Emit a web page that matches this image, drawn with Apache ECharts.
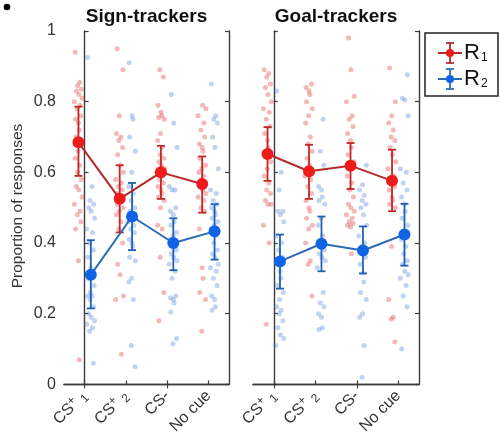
<!DOCTYPE html>
<html>
<head>
<meta charset="utf-8">
<script src="https://cdn.jsdelivr.net/npm/echarts@6/dist/echarts.min.js"></script>
<style>html,body{margin:0;padding:0;background:#fff;}#c{width:501px;height:437px;}</style>
</head>
<body>
<div id="c"></div>
<script>
// ---------- data ----------
const categories = ['CS+1', 'CS+2', 'CS-', 'No cue'];
const panelTitles = ['Sign-trackers', 'Goal-trackers'];
const yAxisTitle = 'Proportion of responses';
const yTicks = [0, 0.2, 0.4, 0.6, 0.8, 1];

// individual subjects, Sign-trackers, R1 (per category)
const stR1 = [
  [0.94,0.855,0.845,0.835,0.83,0.82,0.81,0.80,0.79,0.78,0.76,0.75,0.74,0.72,0.70,0.68,0.66,0.64,0.62,0.60,0.58,0.56,0.55,0.53,0.51,0.49,0.48,0.46,0.44,0.35,0.07],
  [0.95,0.89,0.76,0.71,0.70,0.69,0.67,0.65,0.62,0.60,0.58,0.57,0.56,0.55,0.54,0.53,0.52,0.51,0.50,0.49,0.48,0.46,0.44,0.40,0.34,0.31,0.25,0.24,0.085],
  [0.89,0.87,0.79,0.77,0.76,0.755,0.75,0.71,0.69,0.67,0.65,0.64,0.63,0.62,0.61,0.60,0.59,0.58,0.57,0.56,0.55,0.54,0.53,0.52,0.50,0.45,0.44,0.36,0.26,0.18],
  [0.79,0.78,0.76,0.74,0.72,0.70,0.68,0.67,0.66,0.64,0.62,0.61,0.60,0.59,0.58,0.57,0.56,0.55,0.54,0.53,0.52,0.50,0.49,0.44,0.33,0.30,0.26,0.24,0.15]
];
// Sign-trackers, R2
const stR2 = [
  [0.925,0.56,0.52,0.51,0.50,0.49,0.47,0.44,0.43,0.40,0.38,0.36,0.33,0.31,0.30,0.28,0.26,0.25,0.25,0.24,0.22,0.20,0.19,0.18,0.17,0.16,0.15,0.06],
  [0.91,0.76,0.75,0.70,0.66,0.60,0.56,0.54,0.52,0.50,0.49,0.48,0.47,0.46,0.45,0.44,0.43,0.41,0.40,0.39,0.36,0.35,0.30,0.29,0.24,0.11,0.05],
  [0.82,0.74,0.67,0.56,0.55,0.55,0.50,0.49,0.48,0.46,0.45,0.43,0.42,0.41,0.40,0.39,0.38,0.37,0.36,0.35,0.34,0.32,0.30,0.25,0.245,0.24,0.23,0.205,0.13,0.115],
  [0.85,0.76,0.75,0.74,0.70,0.67,0.61,0.55,0.54,0.52,0.51,0.50,0.49,0.48,0.47,0.46,0.45,0.44,0.42,0.40,0.38,0.37,0.36,0.34,0.33,0.32,0.30,0.28,0.25,0.24,0.22,0.21]
];
// Goal-trackers, R1
const gtR1 = [
  [0.89,0.88,0.87,0.85,0.84,0.82,0.80,0.78,0.77,0.75,0.73,0.71,0.69,0.67,0.65,0.63,0.61,0.59,0.57,0.55,0.54,0.52,0.51,0.51,0.45,0.40,0.17],
  [0.85,0.84,0.83,0.82,0.80,0.78,0.76,0.74,0.70,0.68,0.66,0.64,0.62,0.60,0.59,0.58,0.56,0.54,0.52,0.50,0.49,0.47,0.45,0.44,0.40,0.35,0.34,0.25],
  [0.98,0.89,0.815,0.80,0.76,0.75,0.73,0.71,0.69,0.67,0.65,0.63,0.61,0.59,0.57,0.55,0.53,0.51,0.50,0.49,0.48,0.47,0.46,0.455,0.45,0.445,0.37],
  [0.895,0.80,0.76,0.74,0.72,0.70,0.69,0.67,0.65,0.63,0.61,0.59,0.58,0.56,0.55,0.53,0.52,0.51,0.50,0.39,0.24,0.19,0.185,0.12]
];
// Goal-trackers, R2
const gtR2 = [
  [0.83,0.60,0.55,0.49,0.49,0.48,0.46,0.42,0.40,0.38,0.36,0.34,0.32,0.30,0.28,0.26,0.24,0.22,0.21,0.20,0.18,0.16,0.14,0.13,0.11],
  [0.75,0.66,0.62,0.56,0.55,0.53,0.52,0.51,0.47,0.45,0.42,0.40,0.38,0.37,0.36,0.35,0.33,0.26,0.23,0.22,0.20,0.19,0.16,0.155],
  [0.62,0.565,0.55,0.535,0.52,0.51,0.50,0.48,0.45,0.42,0.40,0.39,0.36,0.34,0.315,0.29,0.26,0.24,0.20,0.19,0.11,0.02],
  [0.876,0.81,0.805,0.76,0.61,0.60,0.57,0.55,0.53,0.51,0.49,0.47,0.45,0.43,0.41,0.39,0.37,0.35,0.34,0.32,0.31,0.30,0.28,0.25,0.22,0.10]
];

// group means and error bar limits
const stR1Mean = [0.685, 0.525, 0.600, 0.567];
const stR1Low  = [0.590, 0.430, 0.525, 0.486];
const stR1High = [0.786, 0.620, 0.675, 0.645];
const stR2Mean = [0.310, 0.475, 0.400, 0.433];
const stR2Low  = [0.215, 0.380, 0.323, 0.353];
const stR2High = [0.408, 0.570, 0.470, 0.510];
const gtR1Mean = [0.652, 0.603, 0.619, 0.576];
const gtR1Low  = [0.576, 0.525, 0.553, 0.490];
const gtR1High = [0.728, 0.678, 0.683, 0.664];
const gtR2Mean = [0.348, 0.398, 0.379, 0.424];
const gtR2Low  = [0.271, 0.320, 0.314, 0.336];
const gtR2High = [0.424, 0.475, 0.447, 0.511];

// ---------- presentation ----------
const jitter = [-0.08,0.03,-0.02,0.07,-0.05,0.01,0.09,-0.10,0.04,-0.03,0.06,-0.07,0.00,0.02,-0.06,0.08,-0.01];
const offR1 = -0.15, offR2 = 0.15;
const FONT = 'Liberation Sans, Arial, sans-serif';
const red = '#ee1b1b', redLine = '#b32b2b', redBar = '#c22626', redDot = 'rgba(222,60,60,0.45)';
const blue = '#1163e6', blueLine = '#2c6cb4', blueBar = '#1f62b5', blueDot = 'rgba(70,125,215,0.42)';
const axisCol = '#3c3c3c';

const panels = [
  {r1: stR1, r2: stR2, m1: stR1Mean, l1: stR1Low, h1: stR1High, m2: stR2Mean, l2: stR2Low, h2: stR2High},
  {r1: gtR1, r2: gtR2, m1: gtR1Mean, l1: gtR1Low, h1: gtR1High, m2: gtR2Mean, l2: gtR2Low, h2: gtR2High}
];
const gridBoxes = [
  {left: 64, top: 31, width: 165, height: 354},
  {left: 253, top: 31, width: 166, height: 354}
];

function labelFmt(v) {
  if (v === 'CS+1') return 'CS{sup|+} {sub|1}';
  if (v === 'CS+2') return 'CS{sup|+} {sub|2}';
  return v;
}

const grid = [], xAxis = [], yAxis = [], series = [];
gridBoxes.forEach((g, p) => {
  grid.push(g);
  const catBase = {
    type: 'category', gridIndex: p, data: categories, boundaryGap: true,
    axisLine: {show: true, lineStyle: {color: axisCol, width: 1.4}},
    axisTick: {show: true, inside: true, alignWithLabel: true, length: 4, lineStyle: {color: axisCol, width: 1.2}},
    splitLine: {show: false}
  };
  xAxis.push(Object.assign({}, catBase, {
    position: 'bottom',
    axisLabel: {
      show: true, rotate: 45, margin: 9, fontSize: 16, fontFamily: FONT, color: '#333',
      formatter: labelFmt,
      rich: {
        sup: {fontSize: 12, fontFamily: FONT, color: '#333', verticalAlign: 'top', padding: [0, 0, 8, 0]},
        sub: {fontSize: 12, fontFamily: FONT, color: '#333', verticalAlign: 'bottom', padding: [6, 0, 0, 0]}
      }
    }
  }));
  xAxis.push(Object.assign({}, catBase, {position: 'top', axisLabel: {show: false}}));
  xAxis.push({type: 'value', gridIndex: p, min: -0.5, max: 3.5, show: false});
  const yBase = {
    type: 'value', gridIndex: p, min: 0, max: 1, interval: 0.2,
    axisLine: {show: true, lineStyle: {color: axisCol, width: 1.4}},
    axisTick: {show: true, inside: true, length: 4, lineStyle: {color: axisCol, width: 1.2}},
    splitLine: {show: false}
  };
  yAxis.push(Object.assign({}, yBase, {
    position: 'left',
    axisLabel: {show: p === 0, fontSize: 16, fontFamily: FONT, color: '#333', margin: 8,
      formatter: v => (yTicks.indexOf(Math.round(v * 10) / 10) >= 0 ? String(Math.round(v * 10) / 10) : '')}
  }));
  yAxis.push(Object.assign({}, yBase, {position: 'right', axisLabel: {show: false}}));

  const xi = p * 3 + 2, yi = p * 2;
  const P = panels[p];
  // individual points
  [[P.r1, offR1, redDot], [P.r2, offR2, blueDot]].forEach(([arr, off, col]) => {
    const pts = [];
    let k = 0;
    arr.forEach((vals, c) => {
      vals.forEach(v => { pts.push([c + off + jitter[k % jitter.length], v]); k++; });
    });
    series.push({type: 'scatter', xAxisIndex: xi, yAxisIndex: yi, data: pts, symbolSize: 5,
      itemStyle: {color: col}, silent: true, z: 1});
  });
  // error bars
  [[P.l1, P.h1, offR1, redBar], [P.l2, P.h2, offR2, blueBar]].forEach(([lo, hi, off, col]) => {
    series.push({
      type: 'custom', xAxisIndex: xi, yAxisIndex: yi, z: 3,
      data: categories.map((_, c) => [c + off, lo[c], hi[c]]),
      encode: {x: 0, y: [1, 2]},
      renderItem: (params, api) => {
        const x = api.value(0);
        const a = api.coord([x, api.value(2)]), b = api.coord([x, api.value(1)]);
        const w = 4;
        const st = {stroke: col, lineWidth: 1.8};
        return {type: 'group', children: [
          {type: 'line', shape: {x1: a[0], y1: a[1], x2: b[0], y2: b[1]}, style: st},
          {type: 'line', shape: {x1: a[0] - w, y1: a[1], x2: a[0] + w, y2: a[1]}, style: st},
          {type: 'line', shape: {x1: b[0] - w, y1: b[1], x2: b[0] + w, y2: b[1]}, style: st}
        ]};
      }
    });
  });
  // means
  [[P.m1, offR1, red, redLine], [P.m2, offR2, blue, blueLine]].forEach(([m, off, col, lc]) => {
    series.push({type: 'line', xAxisIndex: xi, yAxisIndex: yi, z: 4,
      data: m.map((v, c) => [c + off, v]),
      symbol: 'circle', symbolSize: 12, showSymbol: true,
      itemStyle: {color: col}, lineStyle: {color: lc, width: 2}});
  });
});

const graphic = [
  {type: 'circle', shape: {cx: 7, cy: 7, r: 3.3}, style: {fill: '#000'}},
  {type: 'text', x: 146.5, y: 17, style: {text: panelTitles[0], font: 'bold 19px ' + FONT, fill: '#111', align: 'center', verticalAlign: 'middle'}},
  {type: 'text', x: 336, y: 17, style: {text: panelTitles[1], font: 'bold 19px ' + FONT, fill: '#111', align: 'center', verticalAlign: 'middle'}},
  {type: 'text', x: 18, y: 206, rotation: Math.PI / 2, style: {text: yAxisTitle, font: '15.5px ' + FONT, fill: '#333', align: 'center', verticalAlign: 'middle'}},
  // legend
  {type: 'rect', shape: {x: 425, y: 33, width: 73, height: 63}, style: {fill: '#fff', stroke: '#222', lineWidth: 1.5}},
];
[[53, red, redLine, '1'], [79, blue, blueLine, '2']].forEach(([yy, col, lc, s]) => {
  graphic.push({type: 'line', shape: {x1: 438, y1: yy, x2: 462, y2: yy}, style: {stroke: lc, lineWidth: 2}});
  graphic.push({type: 'line', shape: {x1: 450, y1: yy - 10, x2: 450, y2: yy + 10}, style: {stroke: lc, lineWidth: 1.8}});
  graphic.push({type: 'line', shape: {x1: 446, y1: yy - 10, x2: 454, y2: yy - 10}, style: {stroke: lc, lineWidth: 1.8}});
  graphic.push({type: 'line', shape: {x1: 446, y1: yy + 10, x2: 454, y2: yy + 10}, style: {stroke: lc, lineWidth: 1.8}});
  graphic.push({type: 'circle', shape: {cx: 450, cy: yy, r: 4}, style: {fill: col}});
  graphic.push({type: 'text', x: 464, y: yy, style: {text: 'R{s|' + s + '}', font: '22px ' + FONT, fill: '#111', verticalAlign: 'middle',
    rich: {s: {font: '12px ' + FONT, fill: '#111', verticalAlign: 'bottom', padding: [10, 0, 0, 1]}}}});
});

const chart = echarts.init(document.getElementById('c'), null, {renderer: 'canvas'});
chart.setOption({
  animation: false,
  backgroundColor: '#fff',
  grid, xAxis, yAxis, series, graphic
});
</script>
</body>
</html>
